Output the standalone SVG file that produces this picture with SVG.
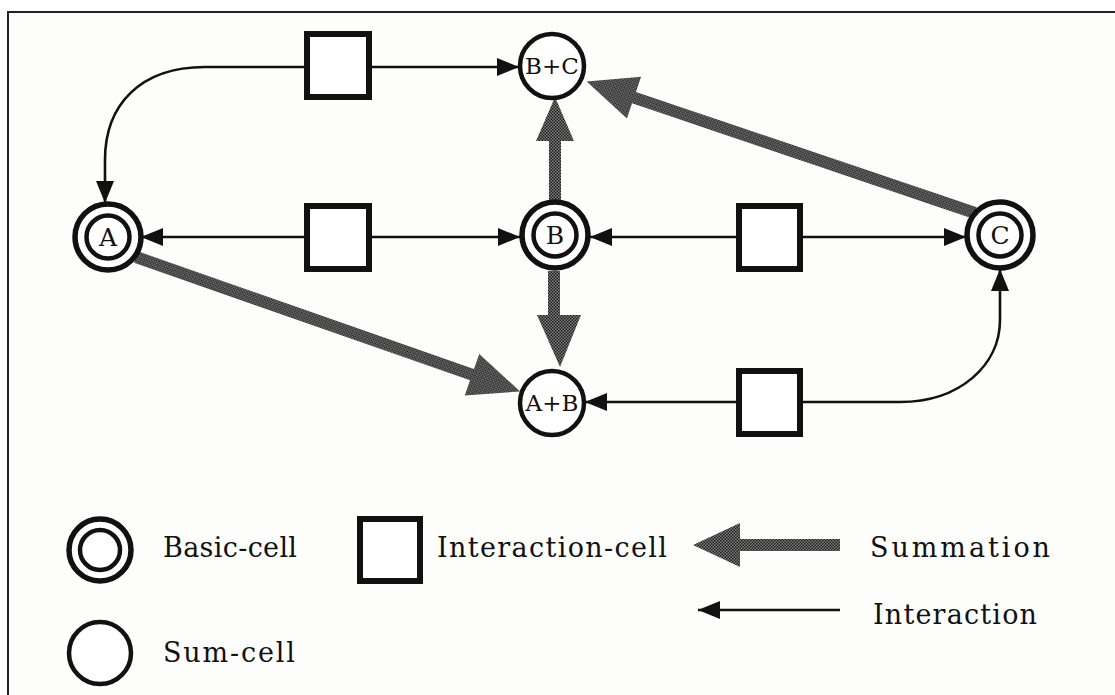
<svg xmlns="http://www.w3.org/2000/svg" width="1115" height="695" viewBox="0 0 1115 695">
  <defs>
    <!-- stippled grey fill used by the summation arrows -->
    <pattern id="stipple" width="3" height="3" patternUnits="userSpaceOnUse">
      <rect width="3" height="3" fill="#7d7d7d"/>
      <rect width="1.5" height="1.5" fill="#1e1e1e"/>
      <rect x="1.5" y="1.5" width="1.5" height="1.5" fill="#1e1e1e"/>
    </pattern>
    <marker id="arr" viewBox="0 0 22 18" refX="22" refY="9" markerWidth="22" markerHeight="18" orient="auto" markerUnits="userSpaceOnUse">
      <path d="M0,0 L22,9 L0,18 z" fill="#111"/>
    </marker>
  </defs>
  <style>
    .frame { fill: #fdfdfb; stroke: #222; stroke-width: 2; }
    .outer { fill: #fff; stroke: #111; stroke-width: 5.5; }
    .inner { fill: none; stroke: #111; stroke-width: 4.5; }
    .sum { fill: #fff; stroke: #111; stroke-width: 4.5; }
    .icell { fill: #fff; stroke: #111; stroke-width: 6; }
    .link { fill: none; stroke: #111; stroke-width: 2.6; }
    .summ { fill: url(#stipple); stroke: none; }
    .lbl { font-family: "DejaVu Serif", "Liberation Serif", serif; font-size: 23px; fill: #111; text-anchor: middle; }
    .big { font-size: 25px; }
    .leg { font-family: "DejaVu Serif", "Liberation Serif", serif; font-size: 27px; fill: #111; }
  </style>

  <rect class="frame" x="8" y="12" width="1130" height="700"/>

  <!-- interaction connectors and summation arrows -->
  <g id="connectors">
    <path class="link" d="M371,67 L519,67" marker-end="url(#arr)"/>
    <path class="link" d="M305,67 L205,67 C140,67 105,105 105,160 L105,203" marker-end="url(#arr)"/>
    <path class="link" d="M305,237 L141,237" marker-end="url(#arr)"/>
    <path class="link" d="M369,237 L520,237" marker-end="url(#arr)"/>
    <path class="link" d="M737,237 L590,237" marker-end="url(#arr)"/>
    <path class="link" d="M800,237 L966,237" marker-end="url(#arr)"/>
    <path class="link" d="M737,402 L585,402" marker-end="url(#arr)"/>
    <path class="link" d="M800,402 L900,402 C960,402 1000,365 1000,320 L1000,269" marker-end="url(#arr)"/>

    <polygon class="summ" points="549,202 561,202 561,141 574,141 555,97 536,141 549,141"/>
    <polygon class="summ" points="548,271 560,271 560,315 581,315 560,367 537,315 548,315"/>
    <g transform="translate(136,257) rotate(19.3)">
      <polygon class="summ" points="0,-6 356,-6 356,-22 407,0 356,22 356,6 0,6"/>
    </g>
    <g transform="translate(975,213) rotate(198.7)">
      <polygon class="summ" points="0,-6 360,-6 360,-22 410,0 360,22 360,6 0,6"/>
    </g>
  </g>

  <!-- interaction cells -->
  <g id="ic-top"><rect class="icell" x="307" y="34" width="62" height="63"/></g>
  <g id="ic-left"><rect class="icell" x="307" y="206" width="62" height="63"/></g>
  <g id="ic-right"><rect class="icell" x="739" y="206" width="61" height="63"/></g>
  <g id="ic-bottom"><rect class="icell" x="739" y="371" width="61" height="63"/></g>

  <!-- basic cells -->
  <g id="node-A">
    <circle class="outer" cx="108" cy="237" r="33"/>
    <circle class="inner" cx="108" cy="237" r="21.5"/>
    <text class="lbl big" x="108" y="246">A</text>
  </g>
  <g id="node-B">
    <circle class="outer" cx="555" cy="235" r="33"/>
    <circle class="inner" cx="555" cy="235" r="21.5"/>
    <text class="lbl big" x="555" y="244">B</text>
  </g>
  <g id="node-C">
    <circle class="outer" cx="1000" cy="235" r="33"/>
    <circle class="inner" cx="1000" cy="235" r="21.5"/>
    <text class="lbl big" x="1000" y="244">C</text>
  </g>

  <!-- sum cells -->
  <g id="node-BC">
    <circle class="sum" cx="552" cy="66" r="32"/>
    <text class="lbl" x="552" y="74">B+C</text>
  </g>
  <g id="node-AB">
    <circle class="sum" cx="552" cy="403" r="32"/>
    <text class="lbl" x="552" y="411">A+B</text>
  </g>

  <!-- legend -->
  <g id="legend">
    <g id="leg-basic">
      <circle class="outer" cx="100" cy="550" r="31"/>
      <circle class="inner" cx="100" cy="550" r="20"/>
      <text class="leg" x="163" y="557" textLength="134" lengthAdjust="spacing">Basic-cell</text>
    </g>
    <g id="leg-interaction-cell">
      <rect class="icell" x="360" y="519" width="60" height="62"/>
      <text class="leg" x="437" y="557" textLength="230" lengthAdjust="spacing">Interaction-cell</text>
    </g>
    <g id="leg-summation">
      <polygon class="summ" points="840,539 740,539 740,523 693,545 740,567 740,551 840,551"/>
      <text class="leg" x="870" y="557" textLength="180" lengthAdjust="spacing">Summation</text>
    </g>
    <g id="leg-interaction">
      <path class="link" d="M840,610 L698,610" marker-end="url(#arr)"/>
      <text class="leg" x="873" y="624" textLength="164" lengthAdjust="spacing">Interaction</text>
    </g>
    <g id="leg-sum">
      <circle class="sum" cx="100" cy="653" r="31"/>
      <text class="leg" x="163" y="662" textLength="132" lengthAdjust="spacing">Sum-cell</text>
    </g>
  </g>
</svg>
